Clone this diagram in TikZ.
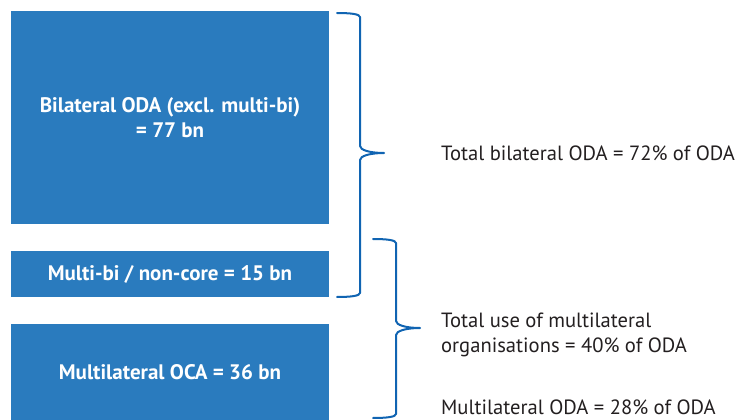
\documentclass[tikz,border=0pt]{standalone}
\usepackage{fontspec}
\setmainfont{PT Sans}
\definecolor{boxblue}{RGB}{42,123,190}
\definecolor{braceblue}{RGB}{16,100,178}
\definecolor{txt}{RGB}{35,31,32}
\begin{document}
\begin{tikzpicture}[x=1pt,y=-1pt,
  bluebox/.style={fill=boxblue,draw=none,minimum width=318pt,inner sep=0pt,text=white,font=\fontsize{21}{25}\selectfont\bfseries,align=center},
  bracepath/.style={draw=braceblue,line width=2pt,line cap=round,line join=round},
  label/.style={anchor=west,text=txt,font=\fontsize{20.6}{25}\selectfont,align=left,inner sep=0pt}]
\useasboundingbox (0,0) rectangle (737,420);
\node[bluebox,minimum height=213pt] (bil) at (170,117.5) {Bilateral ODA (excl. multi-bi)\\= 77 bn};
\node[bluebox,minimum height=46pt] (mb) at (170,274) {Multi-bi / non-core = 15 bn};
\node[bluebox,minimum height=96pt] (mo) at (170,372) {Multilateral OCA = 36 bn};
\draw[bracepath] (337,13) .. controls (350,13) and (360,14) .. (360,17) -- (360,146)
  .. controls (360,150) and (370,153) .. (384,153)
  .. controls (370,153) and (360,156) .. (360,160) -- (360,293)
  .. controls (360,296) and (350,297) .. (337,297);
\draw[bracepath] (373,239) .. controls (386,239) and (396,240) .. (396,243) -- (396,321)
  .. controls (396,325) and (406,328) .. (420,328)
  .. controls (406,328) and (396,331) .. (396,335) -- (396,414)
  .. controls (396,417) and (386,418) .. (373,418);
\node[label] (t1) at (441,153) {Total bilateral ODA = 72\% of ODA};
\node[label] (t2) at (441,334.5) {Total use of multilateral\\organisations = 40\% of ODA};
\node[label] (t3) at (441,407) {Multilateral ODA = 28\% of ODA};
\end{tikzpicture}
\end{document}
